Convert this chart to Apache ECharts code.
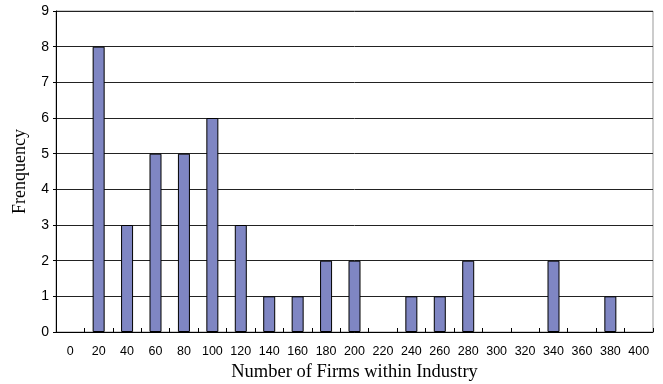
<!DOCTYPE html>
<html>
<head>
<meta charset="utf-8">
<script src="https://cdn.jsdelivr.net/npm/echarts@6/dist/echarts.min.js"></script>
<style>
  html, body { margin: 0; padding: 0; background: #fff; }
  #chart { width: 663px; height: 384px; }
</style>
</head>
<body>
<div id="chart"></div>
<script>
// bin labels (number of firms) and how many industries fall in each
const bins = ['0', '20', '40', '60', '80', '100', '120', '140', '160', '180', '200',
  '220', '240', '260', '280', '300', '320', '340', '360', '380', '400']
const frequency = [0, 8, 3, 5, 5, 6, 3, 1, 1, 2, 2, 0, 1, 1, 2, 0, 0, 2, 0, 1, 0]
const yTicks = [0, 9, 1] // min, max, step

const chart = echarts.init(document.getElementById('chart'))

// empty bins get no bar at all (otherwise the border draws a stub)
const barData = frequency.map(v => (v === 0 ? null : v))

chart.setOption({
  animation: false,
  backgroundColor: '#fff',
  grid: {
    left: 56,
    top: 11,
    right: 10,
    bottom: 52,
    outerBoundsMode: 'none',
    containLabel: false,
    show: true,
    borderColor: '#999',
    borderWidth: 1
  },
  xAxis: {
    type: 'category',
    data: bins,
    boundaryGap: true,
    name: 'Number of Firms within Industry',
    nameLocation: 'middle',
    nameGap: 31,
    nameTextStyle: { fontFamily: 'Liberation Serif', fontSize: 18.5, color: '#000' },
    axisLine: { lineStyle: { color: '#000', width: 1 } },
    axisTick: { show: true, inside: true, length: 4, lineStyle: { color: '#000' } },
    axisLabel: { fontFamily: 'Liberation Sans', fontSize: 12.5, color: '#000', margin: 13, interval: 0 },
    splitLine: { show: false }
  },
  yAxis: {
    type: 'value',
    min: yTicks[0],
    max: yTicks[1],
    interval: yTicks[2],
    name: 'Frenquency',
    nameLocation: 'middle',
    nameGap: 27,
    nameTextStyle: { fontFamily: 'Liberation Serif', fontSize: 18, color: '#000' },
    axisLine: { show: true, lineStyle: { color: '#000', width: 1 } },
    axisTick: { show: true, length: 3, lineStyle: { color: '#000' } },
    axisLabel: { fontFamily: 'Liberation Sans', fontSize: 14, color: '#000', margin: 7 },
    splitLine: { show: true, lineStyle: { color: '#222', width: 1 } }
  },
  series: [{
    type: 'bar',
    data: barData,
    barWidth: 12,
    itemStyle: { color: '#7f86c3', borderColor: '#000', borderWidth: 1 }
  }]
})
</script>
</body>
</html>
